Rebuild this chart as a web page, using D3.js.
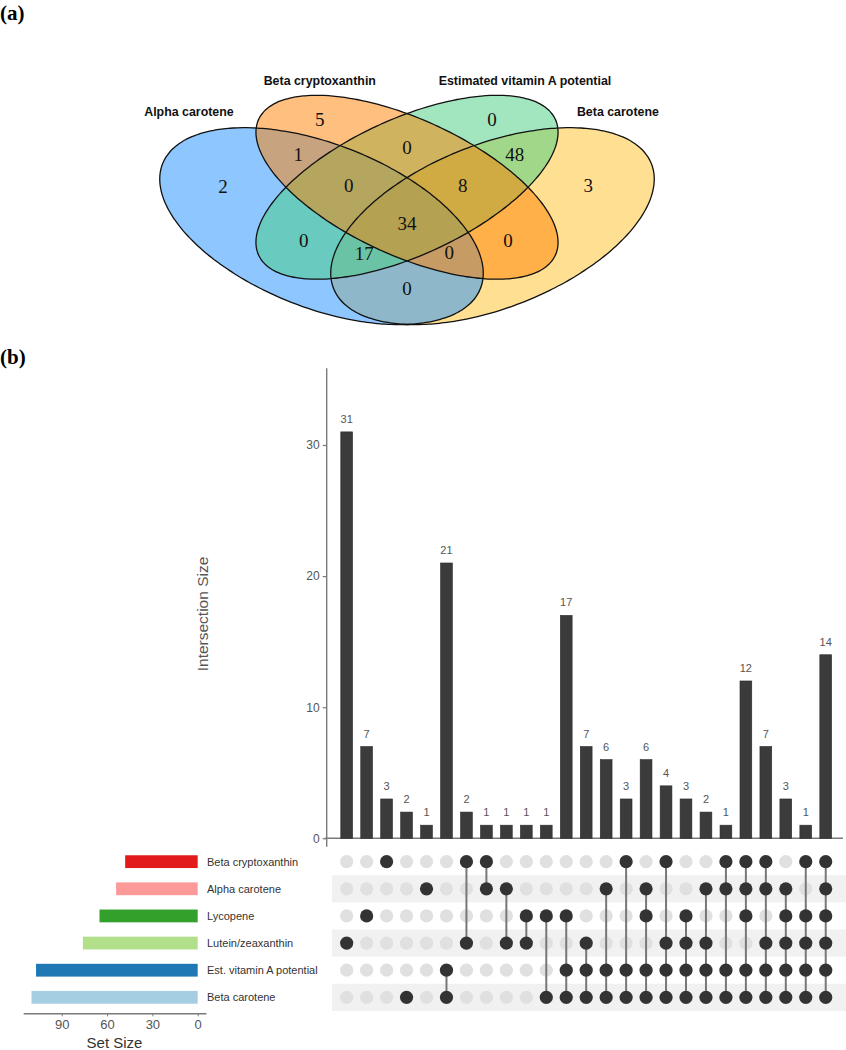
<!DOCTYPE html>
<html><head><meta charset="utf-8">
<script src="https://cdn.jsdelivr.net/npm/d3@7"></script>
<style>body{margin:0;background:#fff;} svg{display:block;}</style>
</head><body>
<svg id="chart" width="846" height="1050"></svg>
<script>
// ---------------- DATA ----------------
// (a) Venn diagram
const vennSets = ["Alpha carotene", "Beta cryptoxanthin", "Estimated vitamin A potential", "Beta carotene"];
const vennColors = ["#1E90FF", "#FF7F00", "#43CD80", "#FFC125"];
// regions: membership by index into vennSets (0=Alpha,1=BCX,2=EstA,3=BetaCar)
const vennRegions = [[0],[1],[2],[3],[0,1],[1,2],[2,3],[0,1,2],[1,2,3],[0,1,2,3],[0,2],[1,3],[0,2,3],[0,1,3],[0,3]];
const vennCounts  = [2, 5, 0, 3, 1, 0, 48, 0, 8, 34, 0, 0, 17, 0, 0];

// (b) UpSet plot
const upsetSets = ["Beta cryptoxanthin", "Alpha carotene", "Lycopene", "Lutein/zeaxanthin", "Est. vitamin A potential", "Beta carotene"];
const setSizes = [48, 54, 65, 76, 107, 110];
const setColors = ["#e31a1c", "#fb9a99", "#33a02c", "#b2df8a", "#1f78b4", "#a6cee3"];
const intersectionSizes = [31, 7, 3, 2, 1, 21, 2, 1, 1, 1, 1, 17, 7, 6, 3, 6, 4, 3, 2, 1, 12, 7, 3, 1, 14];
const intersectionMembers = [
  [3], [2], [0], [5], [1], [4,5], [0,3], [0,1], [1,3], [2,3], [2,5], [2,4,5],
  [3,4,5], [1,4,5], [0,4,5], [1,2,4,5], [0,3,4,5], [2,3,4,5], [1,3,4,5], [0,1,4,5],
  [0,1,2,4,5], [0,1,3,4,5], [1,2,3,4,5], [0,2,3,4,5], [0,1,2,3,4,5]
];
const barTicks = [0, 10, 20, 30];
const setSizeTicks = [0, 30, 60, 90];

// ---------------- LAYOUT (Venn geometry in unit space) ----------------
const ellipseGeom = [ // same order as vennSets
  {cx: 0.35, cy: 0.478, a: 0.345, b: 0.205, rot: 135},
  {cx: 0.50, cy: 0.59, a: 0.335, b: 0.168, rot: 135},
  {cx: 0.50, cy: 0.59, a: 0.335, b: 0.168, rot: 45},
  {cx: 0.65, cy: 0.478, a: 0.345, b: 0.205, rot: 45}
];
const drawOrder = [3, 0, 2, 1];
const regionPos = [[0.177,0.591],[0.347,0.784],[0.649,0.784],[0.818,0.594],[0.309,0.683],[0.5,0.706],[0.689,0.683],
  [0.398,0.594],[0.598,0.594],[0.5,0.487],[0.319,0.438],[0.677,0.438],[0.425,0.398],[0.574,0.401],[0.5,0.297]];
const setLabelPos = [[0.1175,0.807],[0.347,0.896],[0.707,0.896],[0.870,0.807]];

const svg = d3.select("#chart");

// Panel labels
svg.append("text").attr("x", 0).attr("y", 20).text("(a)")
  .attr("font-family", "Liberation Serif, serif").attr("font-weight", "bold").attr("font-size", 21);
svg.append("text").attr("x", 0).attr("y", 364).text("(b)")
  .attr("font-family", "Liberation Serif, serif").attr("font-weight", "bold").attr("font-size", 21);

// ---------------- Venn ----------------
const vx = d3.scaleLinear().domain([0, 1]).range([122, 692]);
const vy = d3.scaleLinear().domain([0, 1]).range([392, 45]);
function ellipsePoints(g) {
  const th = g.rot * Math.PI / 180;
  return d3.range(0, 360, 2).map(deg => {
    const t = deg * Math.PI / 180;
    const du = g.a * Math.cos(t) * Math.cos(th) - g.b * Math.sin(t) * Math.sin(th);
    const dv = g.a * Math.cos(t) * Math.sin(th) + g.b * Math.sin(t) * Math.cos(th);
    return [vx(g.cx + du), vy(g.cy + dv)];
  });
}
const eline = d3.line().curve(d3.curveCardinalClosed);
const venn = svg.append("g");
venn.selectAll("path.fill").data(drawOrder).join("path")
  .attr("class", "fill")
  .attr("d", i => eline(ellipsePoints(ellipseGeom[i])))
  .attr("fill", i => vennColors[i]).attr("fill-opacity", 0.5).attr("stroke", "none");
venn.selectAll("path.outline").data(drawOrder).join("path")
  .attr("class", "outline")
  .attr("d", i => eline(ellipsePoints(ellipseGeom[i])))
  .attr("fill", "none").attr("stroke", "#111").attr("stroke-width", 1.3);
venn.selectAll("text.count").data(vennCounts).join("text")
  .attr("class", "count")
  .attr("x", (d, i) => vx(regionPos[i][0])).attr("y", (d, i) => vy(regionPos[i][1]))
  .attr("text-anchor", "middle").attr("dominant-baseline", "central")
  .attr("font-family", "Liberation Serif, serif").attr("font-size", 19).attr("fill", "#111")
  .text(d => d);
venn.selectAll("text.setlab").data(vennSets).join("text")
  .attr("class", "setlab")
  .attr("x", (d, i) => vx(setLabelPos[i][0])).attr("y", (d, i) => vy(setLabelPos[i][1]))
  .attr("text-anchor", "middle").attr("dominant-baseline", "central")
  .attr("font-family", "Liberation Sans, Arial, sans-serif").attr("font-weight", "bold").attr("font-size", 12.4).attr("fill", "#111")
  .text(d => d);

// ---------------- UpSet ----------------
const nCols = intersectionSizes.length;
const xCol = d3.scaleBand().domain(d3.range(nCols)).range([336.7, 835.7]).paddingInner(0.41).paddingOuter(0.205);
const yBar = d3.scaleLinear().domain([0, 35.85]).range([838.3, 368.3]);
const yRow = d3.scaleBand().domain(d3.range(upsetSets.length)).range([848.1, 1010.9]);
const xSet = d3.scaleLinear().domain([-5.5, 115.5]).range([206, 23.2]);
const axisX = 326.7;
const grey = "#7a7a7a";

const up = svg.append("g");
// y axis
up.append("line").attr("x1", axisX).attr("x2", axisX).attr("y1", yBar(-0.65)).attr("y2", yBar(35.85))
  .attr("stroke", grey).attr("stroke-width", 1.4);
const yAx = up.append("g").attr("transform", `translate(${axisX},0)`)
  .call(d3.axisLeft(yBar).tickValues(barTicks).tickSize(4).tickPadding(3));
yAx.select(".domain").remove();
yAx.selectAll("line").attr("stroke", grey).attr("stroke-width", 1.2);
yAx.selectAll("text").attr("font-family", "Liberation Sans, Arial, sans-serif").attr("font-size", 12).attr("fill", "#555");
// x baseline
up.append("line").attr("x1", axisX - 2).attr("x2", 843).attr("y1", yBar(0)).attr("y2", yBar(0))
  .attr("stroke", grey).attr("stroke-width", 1.4);
// bars
up.selectAll("rect.bar").data(intersectionSizes).join("rect").attr("class", "bar")
  .attr("x", (d, i) => xCol(i)).attr("width", xCol.bandwidth())
  .attr("y", d => yBar(d)).attr("height", d => yBar(0) - yBar(d))
  .attr("fill", "#3b3b3b").attr("stroke", "#2a2a2a").attr("stroke-width", 0.6);
up.selectAll("text.blab").data(intersectionSizes).join("text").attr("class", "blab")
  .attr("x", (d, i) => xCol(i) + xCol.bandwidth() / 2).attr("y", d => yBar(d) - 9)
  .attr("text-anchor", "middle").attr("font-family", "Liberation Sans, Arial, sans-serif")
  .attr("font-size", 11).attr("fill", "#555").text(d => d);
up.append("text").attr("transform", `translate(208,${614}) rotate(-90)`)
  .attr("text-anchor", "middle").attr("font-family", "Liberation Sans, Arial, sans-serif")
  .attr("font-size", 15.5).attr("fill", "#555").text("Intersection Size");

// matrix stripes
up.selectAll("rect.stripe").data(d3.range(upsetSets.length).filter(i => i % 2 === 1)).join("rect")
  .attr("class", "stripe").attr("x", 332).attr("width", 846 - 332)
  .attr("y", i => yRow(i)).attr("height", yRow.bandwidth()).attr("fill", "#f1f1f1");
// background dots
const grid = [];
intersectionSizes.forEach((_, c) => upsetSets.forEach((_, r) => grid.push({c, r, on: intersectionMembers[c].includes(r)})));
up.selectAll("circle.bg").data(grid.filter(g => !g.on)).join("circle").attr("class", "bg")
  .attr("cx", g => xCol(g.c) + xCol.bandwidth() / 2).attr("cy", g => yRow(g.r) + yRow.bandwidth() / 2)
  .attr("r", 6.6).attr("fill", "#e0e0e0");
// connectors
up.selectAll("line.conn").data(intersectionMembers.map((m, c) => ({c, m})).filter(d => d.m.length > 1)).join("line")
  .attr("class", "conn")
  .attr("x1", d => xCol(d.c) + xCol.bandwidth() / 2).attr("x2", d => xCol(d.c) + xCol.bandwidth() / 2)
  .attr("y1", d => yRow(d3.min(d.m)) + yRow.bandwidth() / 2).attr("y2", d => yRow(d3.max(d.m)) + yRow.bandwidth() / 2)
  .attr("stroke", "#777").attr("stroke-width", 2);
up.selectAll("circle.on").data(grid.filter(g => g.on)).join("circle").attr("class", "on")
  .attr("cx", g => xCol(g.c) + xCol.bandwidth() / 2).attr("cy", g => yRow(g.r) + yRow.bandwidth() / 2)
  .attr("r", 6.6).attr("fill", "#333");

// set size bars
up.selectAll("rect.set").data(setSizes).join("rect").attr("class", "set")
  .attr("x", d => xSet(d)).attr("width", d => xSet(0) - xSet(d))
  .attr("y", (d, i) => yRow(i) + yRow.bandwidth() / 2 - 6.4).attr("height", 12.8)
  .attr("fill", (d, i) => setColors[i]);
up.selectAll("text.setname").data(upsetSets).join("text").attr("class", "setname")
  .attr("x", 207).attr("y", (d, i) => yRow(i) + yRow.bandwidth() / 2)
  .attr("dominant-baseline", "central").attr("font-family", "Liberation Sans, Arial, sans-serif")
  .attr("font-size", 11).attr("fill", "#333").text(d => d);
const sAx = up.append("g").attr("transform", "translate(0,1013.3)")
  .call(d3.axisBottom(xSet).tickValues(setSizeTicks).tickSize(3).tickPadding(3).tickSizeOuter(0));
sAx.select(".domain").attr("stroke", grey).attr("stroke-width", 1.4);
sAx.selectAll(".tick line").attr("stroke", grey);
sAx.selectAll("text").attr("font-family", "Liberation Sans, Arial, sans-serif").attr("font-size", 13).attr("fill", "#555");
up.append("text").attr("x", 114.5).attr("y", 1048).attr("text-anchor", "middle")
  .attr("font-family", "Liberation Sans, Arial, sans-serif").attr("font-size", 15).attr("fill", "#333").text("Set Size");
</script>
</body></html>
